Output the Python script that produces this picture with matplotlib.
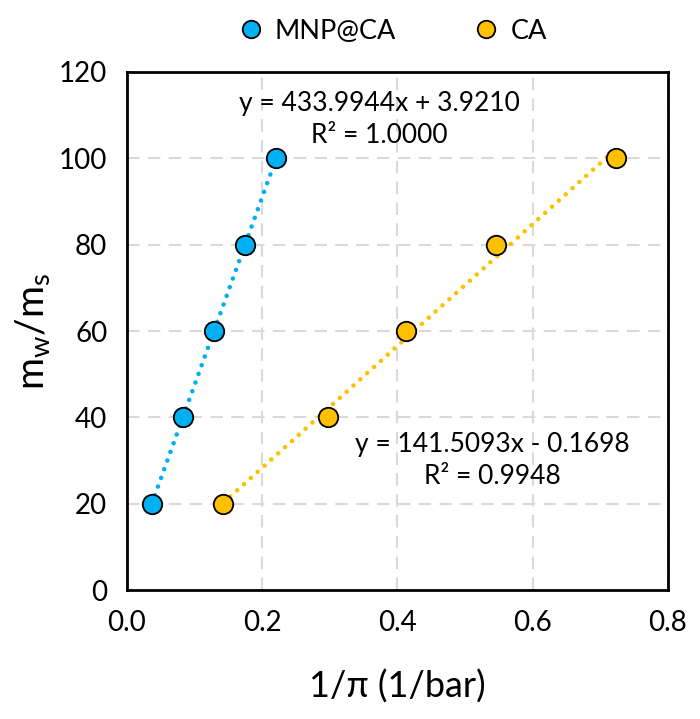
import numpy as np
import matplotlib.pyplot as plt

plt.rcParams['font.family'] = ['Lato', 'DejaVu Sans']

# data
mw_ms = [20, 40, 60, 80, 100]
x_mnp = [0.037, 0.083, 0.129, 0.175, 0.221]
x_ca = [0.143, 0.297, 0.413, 0.546, 0.724]

blue = '#00B0F0'
gold = '#FFC000'

fig = plt.figure(figsize=(7.0, 7.19), dpi=100)
ax = fig.add_axes([0.181, 0.179, 0.773, 0.721])

# trend lines (least squares, drawn over the data range)
for xs, col in [(x_mnp, blue), (x_ca, gold)]:
    k, b = np.polyfit(xs, mw_ms, 1)
    xx = np.array([min(xs), max(xs)])
    ax.plot(xx, k * xx + b, linestyle=(0, (0.01, 2.0)), color=col,
            linewidth=3.3, dash_capstyle='round', zorder=2)

ax.plot(x_mnp, mw_ms, 'o', ms=14, mfc=blue, mec='black', mew=1.3,
        label='MNP@CA', zorder=3)
ax.plot(x_ca, mw_ms, 'o', ms=14, mfc=gold, mec='black', mew=1.3,
        label='CA', zorder=3)

ax.text(0.373, 109, 'y = 433.9944x + 3.9210\nR² = 1.0000', fontsize=19,
        ha='center', va='center', linespacing=1.35)
ax.text(0.54, 30, 'y = 141.5093x - 0.1698\nR² = 0.9948', fontsize=19,
        ha='center', va='center', linespacing=1.35)

ax.set_xlim(0, 0.8)
ax.set_ylim(0, 120)
ax.set_xticks(np.arange(0, 0.81, 0.2))
ax.set_yticks(np.arange(0, 121, 20))
ax.set_xticklabels([f'{v:.1f}' for v in np.arange(0, 0.81, 0.2)])
ax.tick_params(labelsize=20, length=0, pad=14)

ax.grid(True, color='#D9D9D9', linestyle=(0, (6, 4)), linewidth=1.5)
ax.set_axisbelow(True)
for s in ax.spines.values():
    s.set_color('black')
    s.set_linewidth(2)

ax.set_xlabel('1/π (1/bar)', fontsize=26, labelpad=24)
ax.set_ylabel('m$_\\mathregular{w}$/m$_\\mathregular{s}$', fontsize=28, labelpad=4)

fig.legend(loc='upper center', bbox_to_anchor=(0.555, 1.008), ncol=2,
           frameon=False, fontsize=19.5, markerscale=0.9, columnspacing=2.56,
           handletextpad=0.15, handlelength=1.5)

fig.savefig('out.png', dpi=100, facecolor='white')
